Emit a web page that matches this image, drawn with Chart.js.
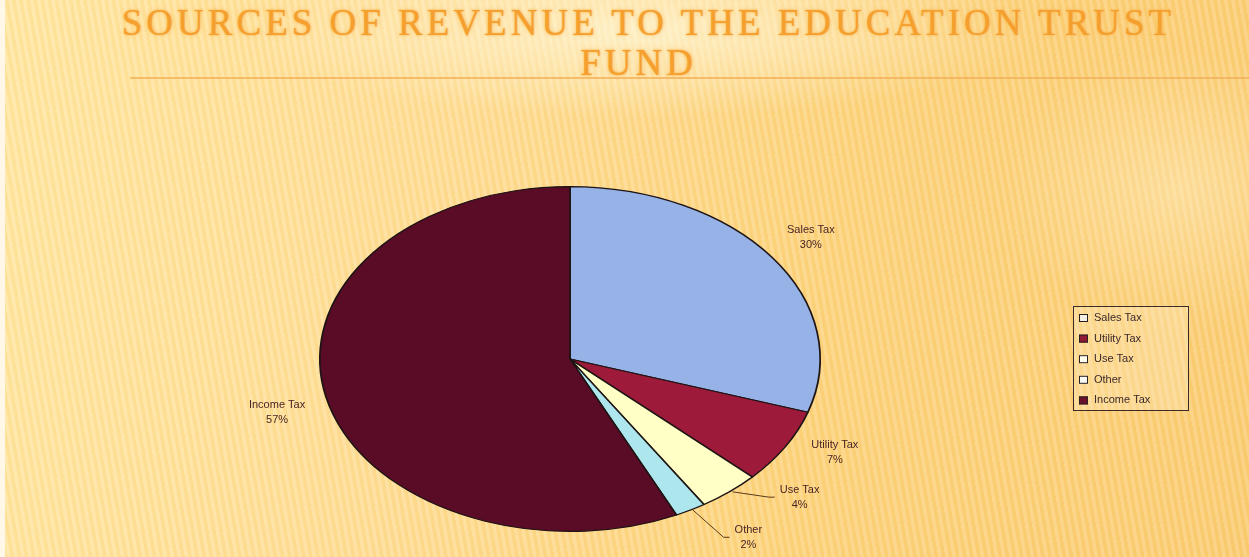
<!DOCTYPE html>
<html>
<head>
<meta charset="utf-8">
<script src="https://cdn.jsdelivr.net/npm/chart.js@4.4.1/dist/chart.umd.min.js"></script>
<style>
  html, body { margin:0; padding:0; width:1249px; height:557px; overflow:hidden; }
  body {
    position:relative;
    background:
      radial-gradient(ellipse 260px 200px at 1180px 190px, rgba(255,240,200,0.45), rgba(255,240,200,0) 70%),
      radial-gradient(ellipse 500px 110px at 640px 30px, rgba(255,250,225,0.7), rgba(255,250,225,0) 80%),
      repeating-linear-gradient(80deg, rgba(255,255,255,0.16) 0px, rgba(255,255,255,0.16) 3px, rgba(240,170,60,0.06) 4px, rgba(240,170,60,0.06) 7px),
      linear-gradient(100deg, #FFE6A0 0%, #FEDC92 35%, #FCD27A 65%, #FACB70 100%);
  }
  #edge { position:absolute; left:0; top:0; width:5px; height:557px; background:#FFF8E8; }
  .title {
    position:absolute; left:0; width:1249px; text-align:center;
    font-family:"Liberation Serif", "DejaVu Serif", serif; font-size:37px;
    color:#F5A02E; letter-spacing:4px;
    text-shadow:0 0 2px rgba(245,160,46,0.8), 0 0 5px rgba(255,200,110,0.9);
  }
  #rule { position:absolute; left:130px; top:77px; width:1119px; height:2px; background:#F2B25A; opacity:0.8; }
  canvas { position:absolute; left:0; top:0; }
</style>
</head>
<body>
<div id="edge"></div>
<div class="title" style="top:1px; left:24px;">SOURCES OF REVENUE TO THE EDUCATION TRUST</div>
<div class="title" style="top:41px; left:14px;">FUND</div>
<div id="rule"></div>
<canvas id="c" width="1249" height="557"></canvas>
<script>
const categories = ["Sales Tax", "Utility Tax", "Use Tax", "Other", "Income Tax"];
const shares = [30, 7, 4, 2, 57];
const percentLabels = ["30%", "7%", "4%", "2%", "57%"];

const sliceColors = ["#96B2E6", "#9E1A3A", "#FFFFC6", "#AEE6EE", "#5A0B26"];
const legendSwatch = ["#F3EFE6", "#8E1A36", "#FFFFF0", "#F6F8F4", "#6A0F2C"];
const xStretch = 1.451;
// label placement multipliers (relative to ellipse radii along each slice's mid angle), and leader flags
const labelLayout = [
  {fx:1.19, fy:1.20, leader:false},
  {fx:1.23, fy:1.06, leader:false},
  {fx:1.44, fy:1.04, leader:true},
  {fx:1.48, fy:1.18, leader:true},
  {fx:1.20, fy:1.40, leader:false}
];

const stretchPlugin = {
  id:'stretch',
  beforeDatasetsDraw(chart){
    const arc = chart.getDatasetMeta(0).data[0];
    const ctx = chart.ctx;
    ctx.save();
    ctx.translate(arc.x, arc.y);
    ctx.scale(xStretch, 1);
    ctx.translate(-arc.x, -arc.y);
  },
  afterDatasetsDraw(chart){
    chart.ctx.restore();
  }
};

const labelPlugin = {
  id:'labels',
  afterDraw(chart){
    const ctx = chart.ctx;
    const meta = chart.getDatasetMeta(0);
    ctx.save();
    ctx.font = '11px "Liberation Sans", Arial, sans-serif';
    ctx.fillStyle = '#4A2424';
    ctx.textAlign = 'center';
    ctx.textBaseline = 'middle';
    meta.data.forEach((arc, i) => {
      const cx = arc.x, cy = arc.y;
      const ry = arc.outerRadius, rx = ry * xStretch;
      const mid = (arc.startAngle + arc.endAngle) / 2;
      const ux = Math.cos(mid), uy = Math.sin(mid);
      const L = labelLayout[i];
      const lx = cx + rx * ux * L.fx;
      const ly = cy + ry * uy * L.fy;
      if (L.leader) {
        const ex = cx + rx * ux * 1.02, ey = cy + ry * uy * 1.0;
        const tw = ctx.measureText(categories[i]).width;
        const endX = lx - tw / 2 - 5, endY = ly;
        ctx.save();
        ctx.strokeStyle = '#5A3A1A';
        ctx.lineWidth = 1;
        ctx.beginPath();
        ctx.moveTo(ex, ey);
        ctx.lineTo(endX - 6, endY);
        ctx.lineTo(endX, endY);
        ctx.stroke();
        ctx.restore();
      }
      ctx.fillText(categories[i], lx, ly - 7);
      ctx.fillText(percentLabels[i], lx, ly + 8);
    });
    // legend
    const bx = 1073, by = 306, bw = 115, bh = 104;
    ctx.fillStyle = 'rgba(255,248,225,0.25)';
    ctx.fillRect(bx, by, bw, bh);
    ctx.strokeStyle = '#3A2A2A';
    ctx.lineWidth = 1;
    ctx.strokeRect(bx + 0.5, by + 0.5, bw, bh);
    ctx.textAlign = 'left';
    categories.forEach((name, i) => {
      const y = by + 12 + i * 20.6;
      ctx.fillStyle = legendSwatch[i];
      ctx.fillRect(bx + 6, y - 4, 9, 8);
      ctx.strokeStyle = '#2A2020';
      ctx.strokeRect(bx + 6.5, y - 3.5, 8, 7);
      ctx.fillStyle = '#3C2A2A';
      ctx.fillText(name, bx + 21, y);
    });
    ctx.restore();
  }
};

new Chart(document.getElementById('c'), {
  type:'pie',
  data:{
    labels:categories,
    datasets:[{
      data:shares,
      backgroundColor:sliceColors,
      borderColor:'#1E1414',
      borderWidth:1.2
    }]
  },
  options:{
    responsive:false,
    animation:false,
    layout:{ padding:{ top:185, bottom:24, left:397, right:506 } },
    plugins:{ legend:{ display:false }, tooltip:{ enabled:false }, title:{ display:false } }
  },
  plugins:[stretchPlugin, labelPlugin]
});
</script>
</body>
</html>
